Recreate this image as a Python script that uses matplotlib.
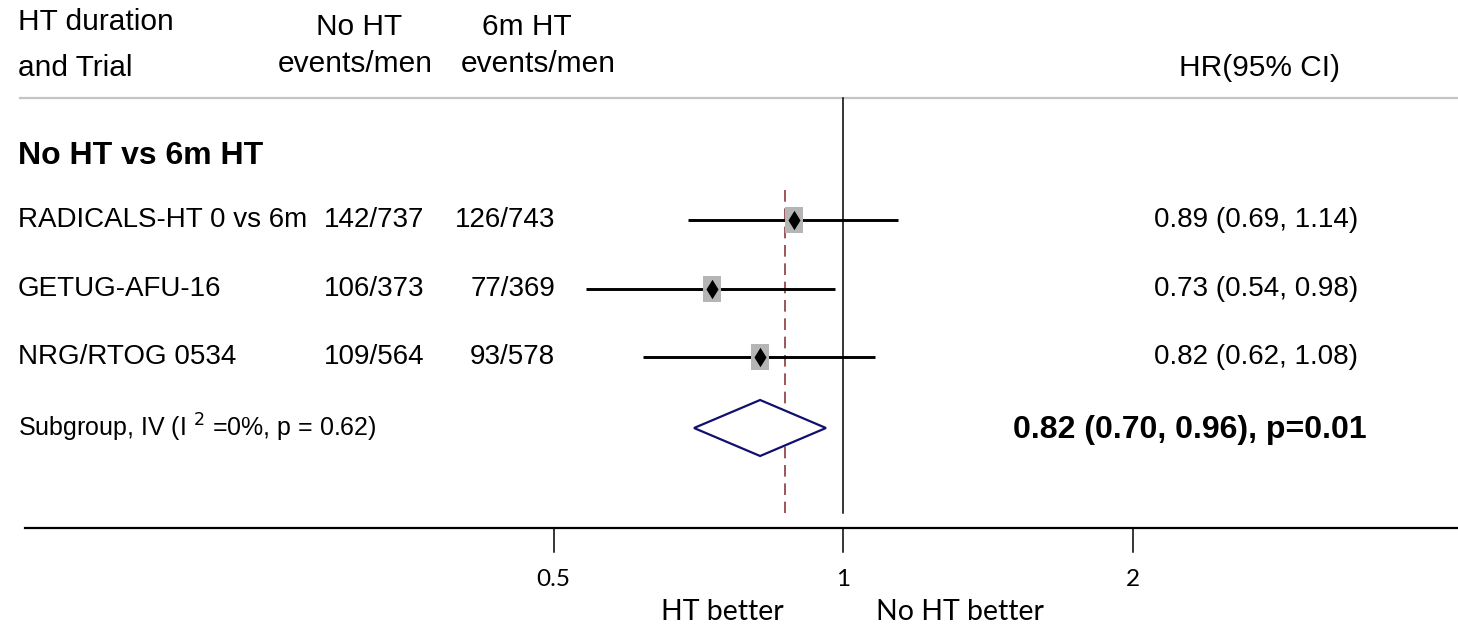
import matplotlib
matplotlib.use("Agg")
import matplotlib.pyplot as plt
import matplotlib.transforms as mtransforms

plt.rcParams['font.family'] = ['Liberation Sans', 'DejaVu Sans']

# data
trials = ["RADICALS-HT 0 vs 6m", "GETUG-AFU-16", "NRG/RTOG 0534"]
noht = ["142/737", "106/373", "109/564"]
ht6m = ["126/743", "77/369", "93/578"]
hr = [0.89, 0.73, 0.82]
lo = [0.69, 0.54, 0.62]
hi = [1.14, 0.98, 1.08]
pooled = (0.82, 0.70, 0.96)
pooled_txt = "0.82 (0.70, 0.96), p=0.01"
dash_ref = 0.87
ticks = [0.5, 1, 2]

W, H = 1458, 628
fig = plt.figure(figsize=(W / 100, H / 100), dpi=100)
ax = fig.add_axes([0, 0, 1, 1])
ax.set_xscale('log', base=2)
# 1 at pixel 843, 289.5 px per doubling
ax.set_xlim(2 ** ((0 - 843) / 289.5), 2 ** ((W - 843) / 289.5))
ax.set_ylim(H, 0)
ax.axis('off')

# x in pixel fraction, y in pixel rows
tr = mtransforms.blended_transform_factory(ax.transAxes, ax.transData)
def px(x):
    return x / W

rows = [220, 289, 357]
sub_y = 428

# headers
hs = 21.5
ax.text(px(18), 22, "HT duration", transform=tr, fontsize=hs, va='center')
ax.text(px(18), 68, "and Trial", transform=tr, fontsize=hs, va='center')
ax.text(px(359), 27, "No HT", transform=tr, fontsize=hs, va='center', ha='center')
ax.text(px(355), 64, "events/men", transform=tr, fontsize=hs, va='center', ha='center')
ax.text(px(527), 27, "6m HT", transform=tr, fontsize=hs, va='center', ha='center')
ax.text(px(538), 64, "events/men", transform=tr, fontsize=hs, va='center', ha='center')
ax.text(px(1340), 68, "HR(95% CI)", transform=tr, fontsize=hs, va='center', ha='right')
ax.plot([px(20), 1], [98, 98], transform=tr, color='#c4c4c4', lw=1.6, clip_on=False)

ax.text(px(18), 156, "No HT vs 6m HT", transform=tr, fontsize=23, fontweight='bold', va='center')

# reference lines
ax.plot([1, 1], [98, 513], color='black', lw=1.1)
ax.plot([dash_ref, dash_ref], [190, 513], color='#8b3a3a', lw=1.2, dashes=(7, 4))

box = [(-0.72, -1), (0.72, -1), (0.72, 1), (-0.72, 1), (-0.72, -1)]
dia = [(0, -1), (0.62, 0), (0, 1), (-0.62, 0), (0, -1)]

fs = 20
for i, y in enumerate(rows):
    ax.text(px(18), y, trials[i], transform=tr, fontsize=fs, va='center')
    ax.text(px(424), y, noht[i], transform=tr, fontsize=fs, va='center', ha='right')
    ax.text(px(555), y, ht6m[i], transform=tr, fontsize=fs, va='center', ha='right')
    ax.text(px(1358), y, f"{hr[i]:.2f} ({lo[i]:.2f}, {hi[i]:.2f})", transform=tr,
            fontsize=fs, va='center', ha='right')
    ax.plot([lo[i], hi[i]], [y, y], color='black', lw=2.1, solid_capstyle='butt')
    ax.plot(hr[i], y, marker=box, markersize=18.5, color='#b5b5b5', markeredgewidth=0)
    ax.plot(hr[i], y, marker=dia, markersize=14, color='black', markeredgewidth=0)

# pooled diamond
est, plo, phi = pooled
ax.fill([plo, est, phi, est, plo], [sub_y, sub_y - 28, sub_y, sub_y + 28, sub_y],
        facecolor='white', edgecolor='#10106e', lw=1.6, zorder=3)
ax.text(px(18), sub_y, "Subgroup, IV (I $^{2}$ =0%, p = 0.62)", transform=tr,
        fontsize=18, va='center')
ax.text(px(1367), sub_y + 2, pooled_txt, transform=tr, fontsize=23,
        fontweight='bold', va='center', ha='right')

# axis
ax.plot([px(25), 1], [528, 528], transform=tr, color='black', lw=1.6, clip_on=False)
for t in ticks:
    ax.plot([t, t], [528, 552], color='black', lw=1.1)
    ax.text(t, 580, f"{t:g}", fontsize=17.5, ha='center', va='center', family=['Lato', 'DejaVu Sans'])
ax.text(px(722), 612, "HT better", transform=tr, fontsize=20.5, ha='center', va='center',
        family=['Lato', 'DejaVu Sans'])
ax.text(px(960), 612, "No HT better", transform=tr, fontsize=20.5, ha='center', va='center',
        family=['Lato', 'DejaVu Sans'])

fig.savefig("out.png", dpi=100, facecolor='white')
